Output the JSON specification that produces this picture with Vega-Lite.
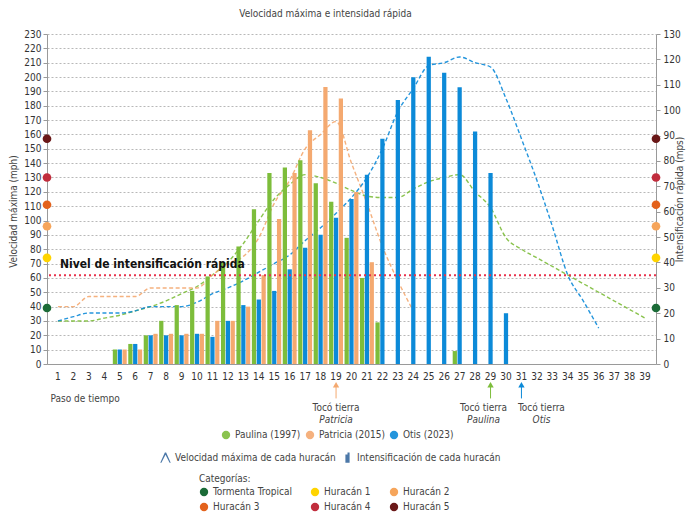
{
"$schema": "https://vega.github.io/schema/vega-lite/v6.json",
"width": 609, "height": 330,
"autosize": {"type": "none"},
"padding": {"left": 47, "top": 34, "right": 35, "bottom": 151},
"background": "white",
"title": {"text": "Velocidad máxima e intensidad rápida", "fontSize": 10, "fontWeight": "normal", "color": "#444", "dx": -26, "offset": 10},
"config": {
  "font": "DejaVu Sans Condensed, Roboto, sans-serif",
  "view": {"stroke": null},
  "axis": {"labelFontSize": 10, "labelColor": "#333", "domainColor": "#9a9a9a", "tickColor": "#9a9a9a", "titleFontSize": 10, "titleFontWeight": "normal", "titleColor": "#444", "labelOverlap": false},
  "legend": {"labelFontSize": 10, "labelColor": "#444", "titleFontSize": 10, "titleFontWeight": "normal", "titleColor": "#444", "labelLimit": 300}
},
"datasets": {
  "barras": [
    {"paso":5,"huracan":"Paulina (1997)","intensificacion":5.7},{"paso":6,"huracan":"Paulina (1997)","intensificacion":7.9},{"paso":7,"huracan":"Paulina (1997)","intensificacion":11.3},{"paso":8,"huracan":"Paulina (1997)","intensificacion":17.0},{"paso":9,"huracan":"Paulina (1997)","intensificacion":23.2},{"paso":10,"huracan":"Paulina (1997)","intensificacion":28.8},{"paso":11,"huracan":"Paulina (1997)","intensificacion":34.5},{"paso":12,"huracan":"Paulina (1997)","intensificacion":40.1},{"paso":13,"huracan":"Paulina (1997)","intensificacion":46.3},{"paso":14,"huracan":"Paulina (1997)","intensificacion":61.0},{"paso":15,"huracan":"Paulina (1997)","intensificacion":75.2},{"paso":16,"huracan":"Paulina (1997)","intensificacion":77.4},{"paso":17,"huracan":"Paulina (1997)","intensificacion":80.3},{"paso":18,"huracan":"Paulina (1997)","intensificacion":71.2},{"paso":19,"huracan":"Paulina (1997)","intensificacion":63.9},{"paso":20,"huracan":"Paulina (1997)","intensificacion":49.7},{"paso":21,"huracan":"Paulina (1997)","intensificacion":33.9},{"paso":22,"huracan":"Paulina (1997)","intensificacion":16.4},{"paso":27,"huracan":"Paulina (1997)","intensificacion":5.1},
    {"paso":5,"huracan":"Patricia (2015)","intensificacion":5.7},{"paso":6,"huracan":"Patricia (2015)","intensificacion":5.7},{"paso":7,"huracan":"Patricia (2015)","intensificacion":11.9},{"paso":8,"huracan":"Patricia (2015)","intensificacion":11.9},{"paso":9,"huracan":"Patricia (2015)","intensificacion":11.9},{"paso":10,"huracan":"Patricia (2015)","intensificacion":11.9},{"paso":11,"huracan":"Patricia (2015)","intensificacion":17.0},{"paso":12,"huracan":"Patricia (2015)","intensificacion":17.0},{"paso":13,"huracan":"Patricia (2015)","intensificacion":22.6},{"paso":14,"huracan":"Patricia (2015)","intensificacion":35.0},{"paso":15,"huracan":"Patricia (2015)","intensificacion":57.1},{"paso":16,"huracan":"Patricia (2015)","intensificacion":75.2},{"paso":17,"huracan":"Patricia (2015)","intensificacion":92.1},{"paso":18,"huracan":"Patricia (2015)","intensificacion":109.1},{"paso":19,"huracan":"Patricia (2015)","intensificacion":104.6},{"paso":20,"huracan":"Patricia (2015)","intensificacion":67.8},{"paso":21,"huracan":"Patricia (2015)","intensificacion":40.1},
    {"paso":5,"huracan":"Otis (2023)","intensificacion":5.7},{"paso":6,"huracan":"Otis (2023)","intensificacion":7.9},{"paso":7,"huracan":"Otis (2023)","intensificacion":11.3},{"paso":8,"huracan":"Otis (2023)","intensificacion":11.3},{"paso":9,"huracan":"Otis (2023)","intensificacion":11.3},{"paso":10,"huracan":"Otis (2023)","intensificacion":11.9},{"paso":11,"huracan":"Otis (2023)","intensificacion":10.7},{"paso":12,"huracan":"Otis (2023)","intensificacion":17.0},{"paso":13,"huracan":"Otis (2023)","intensificacion":23.2},{"paso":14,"huracan":"Otis (2023)","intensificacion":25.4},{"paso":15,"huracan":"Otis (2023)","intensificacion":28.8},{"paso":16,"huracan":"Otis (2023)","intensificacion":37.3},{"paso":17,"huracan":"Otis (2023)","intensificacion":45.8},{"paso":18,"huracan":"Otis (2023)","intensificacion":50.9},{"paso":19,"huracan":"Otis (2023)","intensificacion":57.6},{"paso":20,"huracan":"Otis (2023)","intensificacion":65.0},{"paso":21,"huracan":"Otis (2023)","intensificacion":74.6},{"paso":22,"huracan":"Otis (2023)","intensificacion":88.7},{"paso":23,"huracan":"Otis (2023)","intensificacion":104.0},{"paso":24,"huracan":"Otis (2023)","intensificacion":113.0},{"paso":25,"huracan":"Otis (2023)","intensificacion":121.0},{"paso":26,"huracan":"Otis (2023)","intensificacion":114.7},{"paso":27,"huracan":"Otis (2023)","intensificacion":109.0},{"paso":28,"huracan":"Otis (2023)","intensificacion":91.6},{"paso":29,"huracan":"Otis (2023)","intensificacion":75.2},{"paso":30,"huracan":"Otis (2023)","intensificacion":20.0}
  ],
  "lineas": [
    {"paso":1,"huracan":"Paulina (1997)","velocidad":30},{"paso":2,"huracan":"Paulina (1997)","velocidad":30},{"paso":3,"huracan":"Paulina (1997)","velocidad":30},{"paso":4,"huracan":"Paulina (1997)","velocidad":32},{"paso":5,"huracan":"Paulina (1997)","velocidad":34},{"paso":6,"huracan":"Paulina (1997)","velocidad":37},{"paso":7,"huracan":"Paulina (1997)","velocidad":40},{"paso":8,"huracan":"Paulina (1997)","velocidad":44},{"paso":9,"huracan":"Paulina (1997)","velocidad":49},{"paso":10,"huracan":"Paulina (1997)","velocidad":54},{"paso":11,"huracan":"Paulina (1997)","velocidad":62},{"paso":12,"huracan":"Paulina (1997)","velocidad":71},{"paso":13,"huracan":"Paulina (1997)","velocidad":84},{"paso":14,"huracan":"Paulina (1997)","velocidad":100},{"paso":15,"huracan":"Paulina (1997)","velocidad":115},{"paso":16,"huracan":"Paulina (1997)","velocidad":125},{"paso":17,"huracan":"Paulina (1997)","velocidad":132},{"paso":18,"huracan":"Paulina (1997)","velocidad":130},{"paso":19,"huracan":"Paulina (1997)","velocidad":126},{"paso":20,"huracan":"Paulina (1997)","velocidad":121},{"paso":21,"huracan":"Paulina (1997)","velocidad":117},{"paso":22,"huracan":"Paulina (1997)","velocidad":116},{"paso":23,"huracan":"Paulina (1997)","velocidad":116},{"paso":24,"huracan":"Paulina (1997)","velocidad":122},{"paso":25,"huracan":"Paulina (1997)","velocidad":127},{"paso":26,"huracan":"Paulina (1997)","velocidad":130},{"paso":27,"huracan":"Paulina (1997)","velocidad":132},{"paso":28,"huracan":"Paulina (1997)","velocidad":120},{"paso":29,"huracan":"Paulina (1997)","velocidad":109},{"paso":30,"huracan":"Paulina (1997)","velocidad":88},{"paso":31,"huracan":"Paulina (1997)","velocidad":80},{"paso":32,"huracan":"Paulina (1997)","velocidad":74},{"paso":33,"huracan":"Paulina (1997)","velocidad":68},{"paso":34,"huracan":"Paulina (1997)","velocidad":62},{"paso":35,"huracan":"Paulina (1997)","velocidad":56},{"paso":36,"huracan":"Paulina (1997)","velocidad":50},{"paso":37,"huracan":"Paulina (1997)","velocidad":44},{"paso":38,"huracan":"Paulina (1997)","velocidad":38},{"paso":39,"huracan":"Paulina (1997)","velocidad":32},
    {"paso":1,"huracan":"Patricia (2015)","velocidad":40},{"paso":2,"huracan":"Patricia (2015)","velocidad":40},{"paso":3,"huracan":"Patricia (2015)","velocidad":47},{"paso":4,"huracan":"Patricia (2015)","velocidad":47},{"paso":5,"huracan":"Patricia (2015)","velocidad":47},{"paso":6,"huracan":"Patricia (2015)","velocidad":47},{"paso":7,"huracan":"Patricia (2015)","velocidad":53},{"paso":8,"huracan":"Patricia (2015)","velocidad":53},{"paso":9,"huracan":"Patricia (2015)","velocidad":53},{"paso":10,"huracan":"Patricia (2015)","velocidad":53},{"paso":11,"huracan":"Patricia (2015)","velocidad":62},{"paso":12,"huracan":"Patricia (2015)","velocidad":70},{"paso":13,"huracan":"Patricia (2015)","velocidad":75},{"paso":14,"huracan":"Patricia (2015)","velocidad":88},{"paso":15,"huracan":"Patricia (2015)","velocidad":112},{"paso":16,"huracan":"Patricia (2015)","velocidad":128},{"paso":17,"huracan":"Patricia (2015)","velocidad":150},{"paso":18,"huracan":"Patricia (2015)","velocidad":160},{"paso":19,"huracan":"Patricia (2015)","velocidad":169},{"paso":20,"huracan":"Patricia (2015)","velocidad":140},{"paso":21,"huracan":"Patricia (2015)","velocidad":112},{"paso":22,"huracan":"Patricia (2015)","velocidad":82},{"paso":23,"huracan":"Patricia (2015)","velocidad":58},{"paso":24,"huracan":"Patricia (2015)","velocidad":37},
    {"paso":1,"huracan":"Otis (2023)","velocidad":30},{"paso":2,"huracan":"Otis (2023)","velocidad":33},{"paso":3,"huracan":"Otis (2023)","velocidad":35.5},{"paso":4,"huracan":"Otis (2023)","velocidad":35.5},{"paso":5,"huracan":"Otis (2023)","velocidad":35.5},{"paso":6,"huracan":"Otis (2023)","velocidad":37},{"paso":7,"huracan":"Otis (2023)","velocidad":40},{"paso":8,"huracan":"Otis (2023)","velocidad":40},{"paso":9,"huracan":"Otis (2023)","velocidad":40},{"paso":10,"huracan":"Otis (2023)","velocidad":43},{"paso":11,"huracan":"Otis (2023)","velocidad":49},{"paso":12,"huracan":"Otis (2023)","velocidad":53},{"paso":13,"huracan":"Otis (2023)","velocidad":58},{"paso":14,"huracan":"Otis (2023)","velocidad":64},{"paso":15,"huracan":"Otis (2023)","velocidad":70},{"paso":16,"huracan":"Otis (2023)","velocidad":76},{"paso":17,"huracan":"Otis (2023)","velocidad":86},{"paso":18,"huracan":"Otis (2023)","velocidad":95},{"paso":19,"huracan":"Otis (2023)","velocidad":105},{"paso":20,"huracan":"Otis (2023)","velocidad":116},{"paso":21,"huracan":"Otis (2023)","velocidad":130},{"paso":22,"huracan":"Otis (2023)","velocidad":150},{"paso":23,"huracan":"Otis (2023)","velocidad":176},{"paso":24,"huracan":"Otis (2023)","velocidad":192},{"paso":25,"huracan":"Otis (2023)","velocidad":208},{"paso":26,"huracan":"Otis (2023)","velocidad":210},{"paso":27,"huracan":"Otis (2023)","velocidad":214},{"paso":28,"huracan":"Otis (2023)","velocidad":210},{"paso":29,"huracan":"Otis (2023)","velocidad":207},{"paso":30,"huracan":"Otis (2023)","velocidad":185},{"paso":31,"huracan":"Otis (2023)","velocidad":157},{"paso":32,"huracan":"Otis (2023)","velocidad":128},{"paso":33,"huracan":"Otis (2023)","velocidad":96},{"paso":34,"huracan":"Otis (2023)","velocidad":62},{"paso":35,"huracan":"Otis (2023)","velocidad":44},{"paso":36,"huracan":"Otis (2023)","velocidad":25}
  ],
  "categorias": [
    {"categoria":"Tormenta Tropical","mph":39},{"categoria":"Huracán 1","mph":74},{"categoria":"Huracán 2","mph":96},{"categoria":"Huracán 3","mph":111},{"categoria":"Huracán 4","mph":130},{"categoria":"Huracán 5","mph":157}
  ],
  "tierra": [
    {"paso":19,"huracan":"Patricia (2015)","etiqueta":"Tocó tierra","nombre":"Patricia"},
    {"paso":29,"huracan":"Paulina (1997)","etiqueta":"Tocó tierra","nombre":"Paulina"},
    {"paso":31,"huracan":"Otis (2023)","etiqueta":"Tocó tierra","nombre":"Otis"}
  ],
  "nivel": [{"umbral":35,"texto":"Nivel de intensificación rápida"}],
  "tipos": [{"tipo":"Velocidad máxima de cada huracán"},{"tipo":"Intensificación de cada huracán"}]
},
"layer": [
  {
    "layer": [
      {
        "data": {"name": "lineas"},
        "mark": {"type": "line", "strokeDash": [4, 2.5], "strokeWidth": 1.4, "interpolate": "monotone", "opacity": 0.9},
        "encoding": {
          "x": {"field": "paso", "type": "ordinal", "bandPosition": 0.5,
                "scale": {"type": "band", "domain": [1,2,3,4,5,6,7,8,9,10,11,12,13,14,15,16,17,18,19,20,21,22,23,24,25,26,27,28,29,30,31,32,33,34,35,36,37,38,39], "paddingInner": 0.1, "paddingOuter": 0.26},
                "axis": {"labelAngle": 0, "ticks": false, "tickSize": 0, "labelPadding": 7, "domain": true, "grid": false, "labelOverlap": false, "title": "Paso de tiempo", "titleAnchor": "start", "titleAlign": "left", "titleX": 3, "titleY": 34, "titleBaseline": "middle"}},
          "y": {"field": "velocidad", "type": "quantitative", "scale": {"domain": [0, 230], "nice": false},
                "axis": {"orient": "left", "values": [0,10,20,30,40,50,60,70,80,90,100,110,120,130,140,150,160,170,180,190,200,210,220,230], "labelOverlap": false, "grid": true, "gridDash": [2, 2], "gridColor": "#b8b8b8", "tickSize": 4, "labelPadding": 2, "title": "Velocidad máxima (mph)", "titlePadding": 5, "titleY": 177}},
          "color": {"field": "huracan", "type": "nominal"}
        }
      },
      {
        "data": {"name": "tipos"},
        "mark": {"type": "point", "filled": true, "opacity": 0},
        "encoding": {
          "shape": {"field": "tipo", "type": "nominal",
                    "scale": {"domain": ["Velocidad máxima de cada huracán", "Intensificación de cada huracán"], "range": ["M-1,1L-0.12,-1H0.12L1,1H0.78L0,-0.55L-0.78,1Z", "M-0.4,-0.6H0V-1H0.4V1H-0.4Z"]},
                    "legend": {"orient": "none", "legendX": 113, "legendY": 418, "direction": "horizontal", "title": null, "symbolOpacity": 1, "symbolFillColor": "#9a9a9a", "symbolStrokeColor": "#9a9a9a", "symbolStrokeWidth": 0, "symbolSize": 110, "columnPadding": 6, "labelFontSize": 10}}
        }
      }
    ]
  },
  {
    "layer": [
      {
        "data": {"name": "tierra"},
        "mark": {"type": "point", "shape": "triangle-up", "filled": true, "size": 40, "opacity": 1},
        "encoding": {
          "x": {"field": "paso", "type": "ordinal", "bandPosition": 0.5, "scale": {"type": "band", "domain": [1,2,3,4,5,6,7,8,9,10,11,12,13,14,15,16,17,18,19,20,21,22,23,24,25,26,27,28,29,30,31,32,33,34,35,36,37,38,39], "paddingInner": 0.1, "paddingOuter": 0.26}, "axis": null},
          "y": {"datum": -14.5, "type": "quantitative", "scale": {"domain": [0, 230], "nice": false}, "axis": null},
          "color": {"field": "huracan", "type": "nominal"}
        }
      },
      {
        "data": {"name": "tierra"},
        "mark": {"type": "rule", "strokeWidth": 1},
        "encoding": {
          "x": {"field": "paso", "type": "ordinal", "bandPosition": 0.5, "axis": null},
          "y": {"datum": -16, "type": "quantitative", "axis": null},
          "y2": {"datum": -24},
          "color": {"field": "huracan", "type": "nominal"}
        }
      },
      {
        "data": {"name": "tierra"},
        "transform": [{"filter": "datum.nombre == 'Patricia'"}],
        "mark": {"type": "text", "fontSize": 10, "color": "#444", "baseline": "middle", "align": "center"},
        "encoding": {
          "x": {"field": "paso", "type": "ordinal", "bandPosition": 0.5, "axis": null},
          "y": {"datum": -30.5, "type": "quantitative", "axis": null},
          "text": {"field": "etiqueta"}
        }
      },
      {
        "data": {"name": "tierra"},
        "transform": [{"filter": "datum.nombre == 'Patricia'"}],
        "mark": {"type": "text", "fontSize": 10, "color": "#444", "baseline": "middle", "align": "center", "fontStyle": "italic"},
        "encoding": {
          "x": {"field": "paso", "type": "ordinal", "bandPosition": 0.5, "axis": null},
          "y": {"datum": -38.7, "type": "quantitative", "axis": null},
          "text": {"field": "nombre"}
        }
      },
      {
        "data": {"name": "tierra"},
        "transform": [{"filter": "datum.nombre == 'Paulina'"}],
        "mark": {"type": "text", "fontSize": 10, "color": "#444", "baseline": "middle", "align": "center", "dx": -7},
        "encoding": {
          "x": {"field": "paso", "type": "ordinal", "bandPosition": 0.5, "axis": null},
          "y": {"datum": -30.5, "type": "quantitative", "axis": null},
          "text": {"field": "etiqueta"}
        }
      },
      {
        "data": {"name": "tierra"},
        "transform": [{"filter": "datum.nombre == 'Paulina'"}],
        "mark": {"type": "text", "fontSize": 10, "color": "#444", "baseline": "middle", "align": "center", "dx": -7, "fontStyle": "italic"},
        "encoding": {
          "x": {"field": "paso", "type": "ordinal", "bandPosition": 0.5, "axis": null},
          "y": {"datum": -38.7, "type": "quantitative", "axis": null},
          "text": {"field": "nombre"}
        }
      },
      {
        "data": {"name": "tierra"},
        "transform": [{"filter": "datum.nombre == 'Otis'"}],
        "mark": {"type": "text", "fontSize": 10, "color": "#444", "baseline": "middle", "align": "center", "dx": 20},
        "encoding": {
          "x": {"field": "paso", "type": "ordinal", "bandPosition": 0.5, "axis": null},
          "y": {"datum": -30.5, "type": "quantitative", "axis": null},
          "text": {"field": "etiqueta"}
        }
      },
      {
        "data": {"name": "tierra"},
        "transform": [{"filter": "datum.nombre == 'Otis'"}],
        "mark": {"type": "text", "fontSize": 10, "color": "#444", "baseline": "middle", "align": "center", "dx": 20, "fontStyle": "italic"},
        "encoding": {
          "x": {"field": "paso", "type": "ordinal", "bandPosition": 0.5, "axis": null},
          "y": {"datum": -38.7, "type": "quantitative", "axis": null},
          "text": {"field": "nombre"}
        }
      }
    ]
  },
  {
    "layer": [
      {
        "data": {"name": "barras"},
        "mark": {"type": "bar"},
        "encoding": {
          "x": {"field": "paso", "type": "ordinal",
                "scale": {"type": "band", "domain": [1,2,3,4,5,6,7,8,9,10,11,12,13,14,15,16,17,18,19,20,21,22,23,24,25,26,27,28,29,30,31,32,33,34,35,36,37,38,39], "paddingInner": 0.1, "paddingOuter": 0.26},
                "axis": null},
          "xOffset": {"field": "huracan", "type": "nominal", "scale": {"domain": ["Paulina (1997)", "Otis (2023)", "Patricia (2015)"], "paddingInner": 0.12}},
          "y": {"field": "intensificacion", "type": "quantitative", "scale": {"domain": [0, 130], "nice": false},
                "axis": {"orient": "right", "values": [0,10,20,30,40,50,60,70,80,90,100,110,120,130], "labelOverlap": false, "grid": false, "tickSize": 4, "labelPadding": 3, "title": "Intensificación rápida (mps)", "titleAngle": 270, "titlePadding": 4}},
          "color": {"field": "huracan", "type": "nominal",
                    "scale": {"domain": ["Paulina (1997)", "Patricia (2015)", "Otis (2023)"], "range": ["#7dbd3b", "#f4a970", "#0c8ad8"]},
                    "legend": {"orient": "none", "legendX": 174, "legendY": 396, "direction": "horizontal", "title": null, "symbolType": "circle", "symbolSize": 70, "symbolStrokeWidth": 0, "columnPadding": 4, "labelFontSize": 10}}
        }
      },
      {
        "data": {"name": "nivel"},
        "mark": {"type": "rule", "color": "#e8314b", "strokeWidth": 2, "strokeDash": [2, 3]},
        "encoding": {
          "y": {"field": "umbral", "type": "quantitative",
                "axis": {"orient": "right", "values": [0,10,20,30,40,50,60,70,80,90,100,110,120,130], "labelOverlap": false, "grid": false, "tickSize": 4, "labelPadding": 3, "title": "Intensificación rápida (mps)", "titleAngle": 270, "titlePadding": 4}}
        }
      },
      {
        "data": {"name": "nivel"},
        "mark": {"type": "text", "align": "left", "baseline": "middle", "dx": 9, "dy": -11, "fontSize": 12, "fontWeight": "bold", "color": "#111"},
        "encoding": {
          "x": {"datum": 1, "type": "ordinal", "bandPosition": 0, "axis": null},
          "y": {"field": "umbral", "type": "quantitative",
                "axis": {"orient": "right", "values": [0,10,20,30,40,50,60,70,80,90,100,110,120,130], "labelOverlap": false, "grid": false, "tickSize": 4, "labelPadding": 3, "title": "Intensificación rápida (mps)", "titleAngle": 270, "titlePadding": 4}},
          "text": {"field": "texto"}
        }
      }
    ]
  },
  {
    "layer": [
      {
        "data": {"name": "categorias"},
        "mark": {"type": "point", "filled": true, "size": 75, "opacity": 1, "strokeWidth": 0},
        "encoding": {
          "x": {"datum": 0, "type": "quantitative", "scale": {"domain": [0, 1]}, "axis": null},
          "y": {"field": "mph", "type": "quantitative", "scale": {"domain": [0, 230], "nice": false}, "axis": null},
          "fill": {"field": "categoria", "type": "nominal",
                   "scale": {"domain": ["Tormenta Tropical", "Huracán 1", "Huracán 2", "Huracán 3", "Huracán 4", "Huracán 5"], "range": ["#1b6b37", "#ffd400", "#f6a55b", "#e3621c", "#c12d3d", "#6a1818"]},
                   "legend": {"orient": "none", "legendX": 152, "legendY": 440, "columns": 3, "direction": "horizontal", "title": "\u00a0\u00a0\u00a0\u00a0\u00a0\u00a0\u00a0\u00a0\u00a0\u00a0\u00a0Categorías:", "symbolType": "circle", "symbolSize": 70, "columnPadding": 18, "rowPadding": 5, "labelFontSize": 10, "titleFontSize": 10, "titlePadding": 3}}
        }
      },
      {
        "data": {"name": "categorias"},
        "mark": {"type": "point", "filled": true, "size": 75, "opacity": 1, "strokeWidth": 0},
        "encoding": {
          "x": {"datum": 1, "type": "quantitative", "axis": null},
          "y": {"field": "mph", "type": "quantitative", "axis": null},
          "fill": {"field": "categoria", "type": "nominal"}
        }
      }
    ]
  }
],
"resolve": {"scale": {"x": "independent", "y": "independent"}}
}
